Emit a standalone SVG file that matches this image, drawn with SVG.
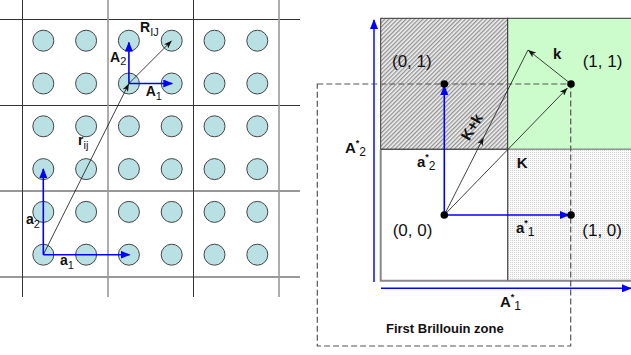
<svg xmlns="http://www.w3.org/2000/svg" width="631" height="355" viewBox="0 0 631 355">
<defs>
<style>
text{font-family:"Liberation Sans",Arial,sans-serif;fill:#111}
.b{font-weight:bold}
.lb{font-weight:bold;font-size:14px}
.rb{font-weight:bold;font-size:15px}
.sub{font-weight:normal}
.co{font-size:17px}
.atom{fill:#b9e1e3;stroke:#444;stroke-width:1}
.gd{stroke:#333;stroke-width:1}
.gg{stroke:#999;stroke-width:1.6}
.bl{stroke:#0000ff;stroke-width:1.6;fill:none;marker-end:url(#ab)}
.bk{stroke:#111;stroke-width:0.8;fill:none}
.dot{fill:#000}
</style>
<marker id="ab" viewBox="0 0 10 8" refX="9" refY="4" markerWidth="10" markerHeight="8" markerUnits="userSpaceOnUse" orient="auto"><path d="M0,0 L10,4 L0,8 z" fill="#0000ff"/></marker>
<marker id="ak" viewBox="0 0 8 6" refX="8" refY="3" markerWidth="8" markerHeight="6" markerUnits="userSpaceOnUse" orient="auto"><path d="M0,0 L8,3 L0,6 L2,3 z" fill="#111"/></marker>
<pattern id="hatch" width="3" height="3" patternUnits="userSpaceOnUse" patternTransform="rotate(45)"><rect width="3" height="3" fill="#f0f0f0"/><rect width="1.3" height="3" fill="#929292"/></pattern>
<pattern id="dots" width="2" height="2" patternUnits="userSpaceOnUse"><rect width="2" height="2" fill="#fafafa"/><rect width="1" height="1" fill="#d4d4d4"/></pattern>
</defs>

<g id="left-grid">
<line class="gd" x1="0" y1="19.5" x2="300" y2="19.5"/>
<line class="gd" x1="0" y1="105.5" x2="300" y2="105.5"/>
<line class="gd" x1="0" y1="191" x2="300" y2="191"/>
<line class="gd" x1="0" y1="277" x2="300" y2="277"/>
<line class="gd" x1="22.5" y1="0" x2="22.5" y2="297"/>
<line class="gg" x1="108" y1="0" x2="108" y2="297"/>
<line class="gd" x1="193.5" y1="0" x2="193.5" y2="297"/>
<line class="gg" x1="279" y1="0" x2="279" y2="297"/>
</g>

<g id="atoms">
<g><circle class="atom" cx="43.3" cy="40.7" r="10.5"/><circle class="atom" cx="86.1" cy="40.7" r="10.5"/><circle class="atom" cx="128.9" cy="40.7" r="10.5"/><circle class="atom" cx="171.7" cy="40.7" r="10.5"/><circle class="atom" cx="214.5" cy="40.7" r="10.5"/><circle class="atom" cx="257.3" cy="40.7" r="10.5"/></g>
<g><circle class="atom" cx="43.3" cy="83.5" r="10.5"/><circle class="atom" cx="86.1" cy="83.5" r="10.5"/><circle class="atom" cx="128.9" cy="83.5" r="10.5"/><circle class="atom" cx="171.7" cy="83.5" r="10.5"/><circle class="atom" cx="214.5" cy="83.5" r="10.5"/><circle class="atom" cx="257.3" cy="83.5" r="10.5"/></g>
<g><circle class="atom" cx="43.3" cy="126.3" r="10.5"/><circle class="atom" cx="86.1" cy="126.3" r="10.5"/><circle class="atom" cx="128.9" cy="126.3" r="10.5"/><circle class="atom" cx="171.7" cy="126.3" r="10.5"/><circle class="atom" cx="214.5" cy="126.3" r="10.5"/><circle class="atom" cx="257.3" cy="126.3" r="10.5"/></g>
<g><circle class="atom" cx="43.3" cy="169.1" r="10.5"/><circle class="atom" cx="86.1" cy="169.1" r="10.5"/><circle class="atom" cx="128.9" cy="169.1" r="10.5"/><circle class="atom" cx="171.7" cy="169.1" r="10.5"/><circle class="atom" cx="214.5" cy="169.1" r="10.5"/><circle class="atom" cx="257.3" cy="169.1" r="10.5"/></g>
<g><circle class="atom" cx="43.3" cy="211.9" r="10.5"/><circle class="atom" cx="86.1" cy="211.9" r="10.5"/><circle class="atom" cx="128.9" cy="211.9" r="10.5"/><circle class="atom" cx="171.7" cy="211.9" r="10.5"/><circle class="atom" cx="214.5" cy="211.9" r="10.5"/><circle class="atom" cx="257.3" cy="211.9" r="10.5"/></g>
<g><circle class="atom" cx="43.3" cy="254.7" r="10.5"/><circle class="atom" cx="86.1" cy="254.7" r="10.5"/><circle class="atom" cx="128.9" cy="254.7" r="10.5"/><circle class="atom" cx="171.7" cy="254.7" r="10.5"/><circle class="atom" cx="214.5" cy="254.7" r="10.5"/><circle class="atom" cx="257.3" cy="254.7" r="10.5"/></g>
</g>

<g id="right-cells">
<rect x="380.7" y="18.3" width="127" height="131" fill="url(#hatch)" stroke="#333" stroke-width="1"/>
<rect x="507.7" y="18.3" width="124" height="131" fill="#ccfccc" stroke="#333" stroke-width="1"/>
<rect x="507.7" y="149.3" width="124" height="131.4" fill="url(#dots)" stroke="#888" stroke-width="1"/>
<rect x="380.7" y="149.3" width="127" height="131.4" fill="#fff" stroke="none"/>
<path d="M380.7,149.3 V280.7 H507.7" fill="none" stroke="#888" stroke-width="2"/>
<path d="M380.7,149.3 H507.7 V280.7" fill="none" stroke="#333" stroke-width="1"/>
<line x1="507.7" y1="280.7" x2="631" y2="280.7" stroke="#888" stroke-width="2"/>
</g>

<g id="brillouin-zone">
<rect x="317.3" y="84" width="253.4" height="262" fill="none" stroke="#555" stroke-width="1.2" stroke-dasharray="6,3"/>
<text class="b" x="386" y="333" font-size="13">First Brillouin zone</text>
</g>

<g id="connectors">
<line class="bl" x1="128.9" y1="83.5" x2="128.9" y2="42.5"/>
<line class="bl" x1="128.9" y1="83.5" x2="172.3" y2="83.5"/>
<line class="bl" x1="43.3" y1="254.7" x2="43.3" y2="169"/>
<line class="bl" x1="43.3" y1="254.7" x2="129.5" y2="254.7"/>
<line class="bk" x1="128.9" y1="83.5" x2="171.7" y2="40.7" marker-end="url(#ak)"/>
<line class="bk" x1="43.3" y1="254.7" x2="128.9" y2="83.5" marker-end="url(#ak)"/>
<line stroke="#3333ff" stroke-width="1.8" x1="374" y1="282" x2="374" y2="20" marker-end="url(#ab)"/>
<line stroke="#0000ff" stroke-width="1.6" x1="381" y1="288.3" x2="631" y2="288.3" marker-end="url(#ab)"/>
<line class="bl" x1="444.3" y1="215" x2="444.3" y2="86"/>
<line class="bl" x1="444.3" y1="215" x2="569" y2="215"/>
<line class="bk" x1="444.3" y1="215" x2="567.5" y2="88" marker-end="url(#ak)"/>
<path class="bk" d="M444.3,215 L483.6,137.5 L528,50" marker-mid="url(#ak)"/>
<line class="bk" x1="571" y1="84" x2="528" y2="50" marker-end="url(#ak)"/>
</g>

<g id="points">
<circle class="dot" cx="444.3" cy="215" r="3.8"/>
<circle class="dot" cx="444.3" cy="84" r="3.8"/>
<circle class="dot" cx="571" cy="84" r="3.8"/>
<circle class="dot" cx="571" cy="215" r="3.8"/>
<text class="co" x="392" y="67.3">(0, 1)</text>
<text class="co" x="582.7" y="67.3">(1, 1)</text>
<text class="co" x="392.7" y="236">(0, 0)</text>
<text class="co" x="582.3" y="236">(1, 0)</text>
</g>

<g id="labels-left">
<text class="lb" x="110" y="61.5">A<tspan class="sub" font-size="11" dy="3">2</tspan></text>
<text class="lb" x="145.7" y="95.5">A<tspan class="sub" font-size="11" dy="4">1</tspan></text>
<text class="lb" x="140" y="32.3">R<tspan class="sub" font-size="11" dy="4">IJ</tspan></text>
<text class="lb" x="78" y="145">r<tspan class="sub" font-size="11" dy="4">ij</tspan></text>
<text class="lb" x="26" y="224">a<tspan class="sub" font-size="11" dy="4">2</tspan></text>
<text class="lb" x="60" y="265">a<tspan class="sub" font-size="11" dy="4">1</tspan></text>
</g>

<g id="labels-right">
<text class="rb" x="345" y="153.3">A<tspan font-size="9" dy="-7">*</tspan><tspan class="sub" font-size="12" dy="10">2</tspan></text>
<text class="rb" x="417" y="167">a<tspan font-size="9" dy="-7">*</tspan><tspan class="sub" font-size="12" dy="10">2</tspan></text>
<text class="rb" x="516" y="233.3">a<tspan font-size="9" dy="-7">*</tspan><tspan class="sub" font-size="12" dy="10">1</tspan></text>
<text class="rb" x="500" y="306.7">A<tspan font-size="9" dy="-7">*</tspan><tspan class="sub" font-size="12" dy="10">1</tspan></text>
<text class="rb" x="516.7" y="167.5">K</text>
<text class="rb" x="553" y="58.5">k</text>
<text class="rb" transform="translate(472,127) rotate(-60)" text-anchor="middle" y="5">K+k</text>
</g>
</svg>
